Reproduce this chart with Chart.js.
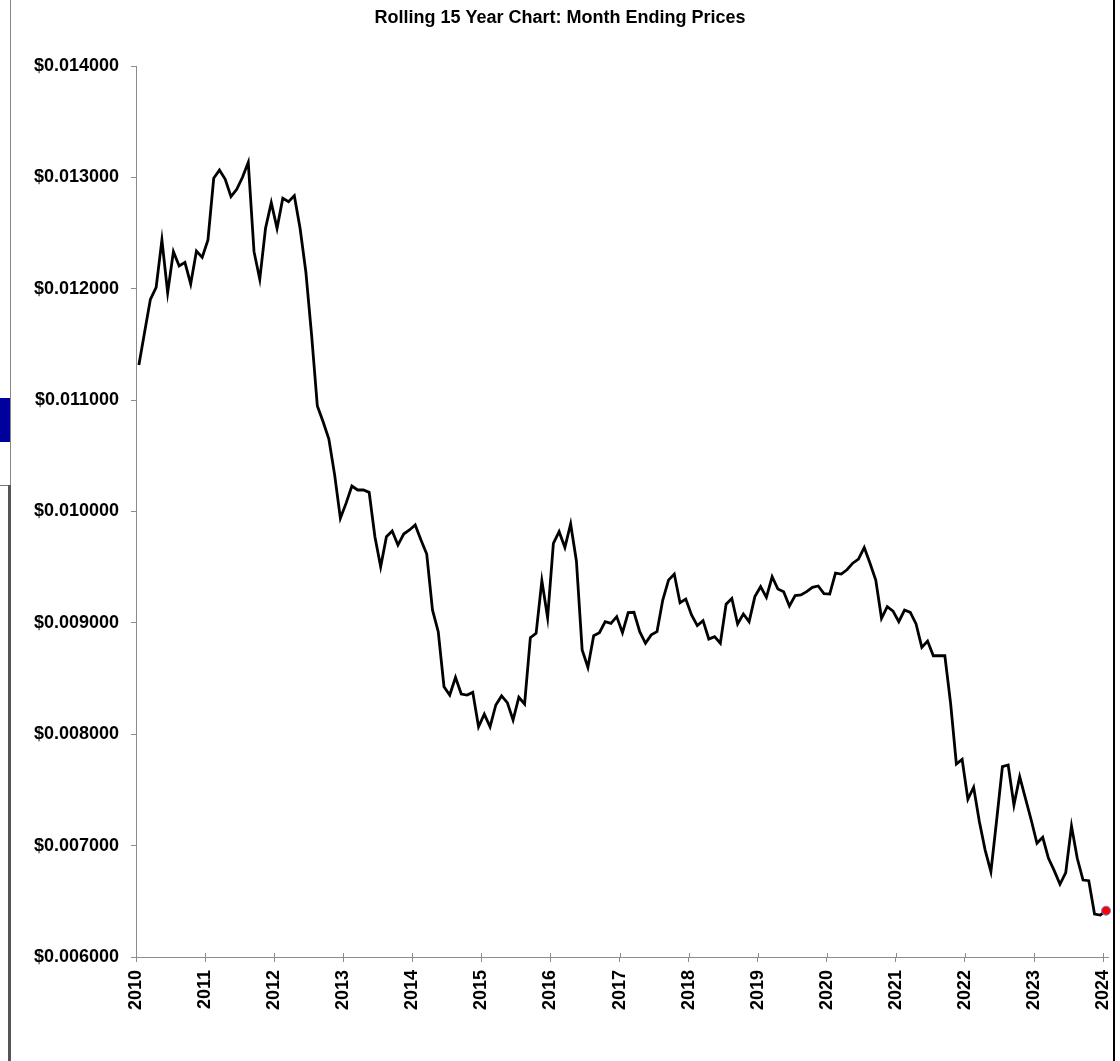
<!DOCTYPE html>
<html><head><meta charset="utf-8">
<script src="https://cdn.jsdelivr.net/npm/chart.js@4.4.1/dist/chart.umd.min.js"></script>
<style>
html,body{margin:0;padding:0;background:#fff;}
#wrap{position:relative;width:1120px;height:1061px;overflow:hidden;background:#fff;}
#c{position:absolute;left:0;top:0;}
.deco{position:absolute;}
</style></head><body>
<div id="wrap">
<canvas id="c" width="1120" height="1061"></canvas>
<div class="deco" style="left:10px;top:0;width:1px;height:485px;background:#888"></div>
<div class="deco" style="left:0;top:398px;width:10px;height:44px;background:#00009c"></div>
<div class="deco" style="left:0;top:485px;width:9px;height:1px;background:#777"></div>
<div class="deco" style="left:8px;top:485px;width:3px;height:576px;background:#555"></div>
<div class="deco" style="left:1113px;top:0;width:2px;height:1061px;background:#000"></div>
</div>
<script>
const chartTitle = 'Rolling 15 Year Chart: Month Ending Prices';
const startYear = 2010;
const yearTicks = [2010,2011,2012,2013,2014,2015,2016,2017,2018,2019,2020,2021,2022,2023,2024];
const priceTicks = [0.006,0.007,0.008,0.009,0.010,0.011,0.012,0.013,0.014];
// Month-ending prices, Jan 2010 .. Jan 2024
const prices2010 = [0.011315,0.011612,0.011905,0.012013,0.012438,0.011965,0.012333,0.012204,0.012237,0.012043,0.012339,0.012282];
const prices2011 = [0.012438,0.012992,0.013066,0.012983,0.012827,0.012893,0.013001,0.013135,0.012333,0.012085,0.012543,0.012773];
const prices2012 = [0.012543,0.012812,0.012782,0.012836,0.012543,0.012153,0.011585,0.010947,0.010806,0.010650,0.010331,0.009939];
const prices2013 = [0.010075,0.010229,0.010193,0.010193,0.010172,0.009774,0.009504,0.009774,0.009825,0.009699,0.009798,0.009834];
const prices2014 = [0.009879,0.009744,0.009618,0.009116,0.008921,0.008427,0.008352,0.008511,0.008361,0.008352,0.008376,0.008067];
const prices2015 = [0.008181,0.008067,0.008263,0.008344,0.008284,0.008128,0.008332,0.008272,0.008867,0.008906,0.009379,0.009047];
const prices2016 = [0.009714,0.009819,0.009678,0.009888,0.009556,0.008757,0.008601,0.008885,0.008912,0.009011,0.008996,0.009056];
const prices2017 = [0.008912,0.009092,0.009095,0.008921,0.008817,0.008892,0.008921,0.009205,0.009384,0.009438,0.009181,0.009214];
const prices2018 = [0.009071,0.008975,0.009020,0.008855,0.008876,0.008817,0.009167,0.009219,0.008990,0.009080,0.009011,0.009236];
const prices2019 = [0.009325,0.009229,0.009414,0.009304,0.009280,0.009152,0.009245,0.009251,0.009280,0.009319,0.009331,0.009262];
const prices2020 = [0.009259,0.009447,0.009438,0.009477,0.009536,0.009572,0.009677,0.009536,0.009385,0.009041,0.009145,0.009106];
const prices2021 = [0.009011,0.009115,0.009094,0.008990,0.008780,0.008837,0.008705,0.008705,0.008705,0.008278,0.007733,0.007775];
const prices2022 = [0.007416,0.007524,0.007215,0.006960,0.006766,0.007230,0.007709,0.007724,0.007365,0.007619,0.007425,0.007230];
const prices2023 = [0.007021,0.007075,0.006886,0.006775,0.006653,0.006757,0.007176,0.006886,0.006691,0.006685,0.006386,0.006377];
const prices2024 = [0.006416];

const prices = [].concat(prices2010,prices2011,prices2012,prices2013,prices2014,prices2015,prices2016,
  prices2017,prices2018,prices2019,prices2020,prices2021,prices2022,prices2023,prices2024);
const points = prices.map((p,i)=>({x: startYear + (i+0.5)/12, y: p}));
const lastIdx = prices.length - 1;

const FONT = "'Liberation Sans', Arial, sans-serif";
const AXIS = '#8c8c8c';

const innerTicks = {
  id: 'innerTicks',
  afterDraw(chart){
    const xs = chart.scales.x, ca = chart.chartArea, ctx = chart.ctx;
    ctx.save();
    ctx.strokeStyle = AXIS; ctx.lineWidth = 1;
    xs.ticks.forEach(t=>{
      const px = Math.round(xs.getPixelForValue(t.value)) + 0.5;
      ctx.beginPath(); ctx.moveTo(px, ca.bottom); ctx.lineTo(px, ca.bottom - 4); ctx.stroke();
    });
    ctx.restore();
  }
};

new Chart(document.getElementById('c'), {
  type: 'line',
  data: { datasets: [{
    data: points,
    borderColor: '#000',
    borderWidth: 2.8,
    tension: 0,
    pointRadius: prices.map((p,i)=> i===lastIdx ? 4.5 : 0),
    pointHoverRadius: 0,
    pointBackgroundColor: '#ff0000',
    pointBorderColor: '#6a7fd8',
    pointBorderWidth: 1,
    clip: false
  }]},
  options: {
    responsive: false,
    animation: false,
    events: [],
    layout: { padding: { left: 0, right: 0, top: 0, bottom: 0 } },
    plugins: {
      legend: { display: false },
      tooltip: { enabled: false },
      title: {
        display: true, text: chartTitle, color: '#000',
        font: { family: FONT, size: 18, weight: 'bold' },
        padding: { top: 7.5, bottom: 36.9 }
      }
    },
    scales: {
      x: {
        type: 'linear', min: 2010, max: 2024.07,
        afterBuildTicks: s => { s.ticks = yearTicks.map(v=>({value:v})); },
        afterFit: s => { s.height = 104; s.paddingRight = 12; s.paddingLeft = 0; },
        grid: { drawOnChartArea: false, drawTicks: true, tickLength: 5, color: AXIS },
        border: { display: true, color: AXIS, width: 1 },
        ticks: {
          autoSkip: false, minRotation: 90, maxRotation: 90, padding: 8, color: '#000',
          font: { family: FONT, size: 18, weight: 'bold' },
          callback: v => String(v)
        }
      },
      y: {
        type: 'linear', min: 0.006, max: 0.014,
        afterBuildTicks: s => { s.ticks = priceTicks.map(v=>({value:v})); },
        afterFit: s => { s.width = 136; },
        grid: { drawOnChartArea: false, drawTicks: true, tickLength: 5, color: AXIS },
        border: { display: true, color: AXIS, width: 1 },
        ticks: {
          padding: 12, color: '#000',
          font: { family: FONT, size: 18, weight: 'bold' },
          callback: v => '$' + Number(v).toFixed(6)
        }
      }
    }
  },
  plugins: [innerTicks]
});
</script>
</body></html>
